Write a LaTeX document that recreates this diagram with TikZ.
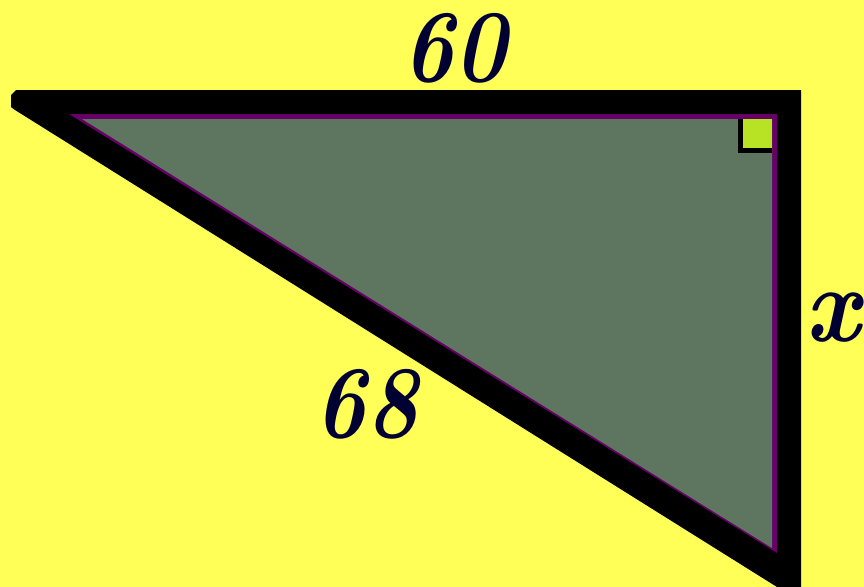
\documentclass[tikz,border=0pt]{standalone}
\usepackage{graphicx}
\usepackage{tikz}
\usetikzlibrary{calc}

\definecolor{bgyellow}{HTML}{FFFF58}
\definecolor{sidegreen}{HTML}{5E7560}
\definecolor{edgepurple}{HTML}{660066}
\definecolor{anglelime}{HTML}{B8E324}
\definecolor{labelnavy}{HTML}{000033}

\tikzset{
  sidelabel/.style={text=labelnavy, font=\fontsize{88}{88}\selectfont\bfseries\itshape, inner sep=0pt},
}

\begin{document}
\begin{tikzpicture}[x=0.03cm, y=-0.03cm]
  % Background
  \fill[bgyellow] (0,0) rectangle (864,587);
  \useasboundingbox (0,0) rectangle (864,587);

  % Corners
  \coordinate (tipL) at (11,97);
  \coordinate (cornR) at (801,90);
  \coordinate (botR) at (801,587);

  % Black outer triangle
  \fill[black] (16,90) -- (cornR) -- (botR) -- (777,587) -- (15,110) -- (11,107) -- (11,95) -- cycle;

  % Purple rim and inner fill
  \fill[edgepurple] (69,114) -- (777,114) -- (777,553) -- cycle;
  \fill[sidegreen] (82,119) -- (772,119) -- (772,548) -- cycle;

  % Right angle mark
  \fill[black] (738,119) rectangle (772,153);
  \fill[anglelime] (743,119) rectangle (772,148);

  % Labels
  \node[sidelabel] (lbltop) at (454,48) {\scalebox{0.85}[1]{60}};
  \node[sidelabel] (lblhyp) at (366,404) {\scalebox{0.85}[1]{68}};
  \node[sidelabel, font=\fontsize{92}{92}\selectfont\bfseries\itshape] (lblx) at (833,318) {\scalebox{0.9}[1]{x}};
\end{tikzpicture}
\end{document}
